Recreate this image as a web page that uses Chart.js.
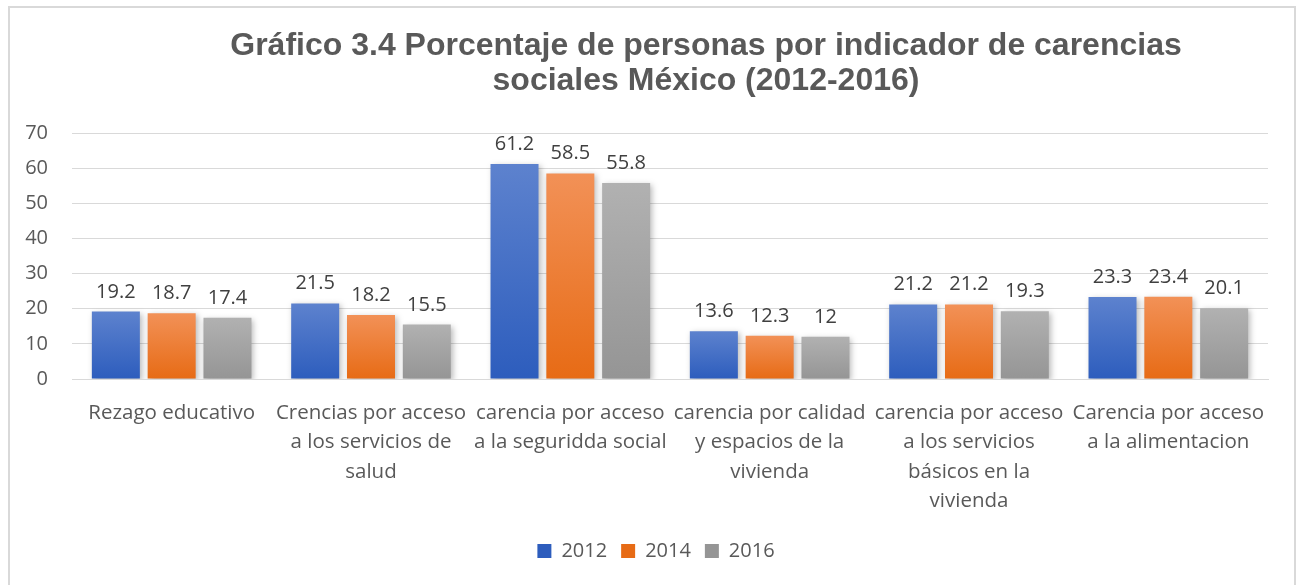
<!DOCTYPE html>
<html>
<head>
<meta charset="utf-8">
<script src="https://cdn.jsdelivr.net/npm/chart.js@4/dist/chart.umd.min.js"></script>
<style>
html,body{margin:0;padding:0;background:#fff;}
#wrap{width:1298px;height:585px;position:relative;}
</style>
</head>
<body>
<div id="wrap"><canvas id="c" width="1298" height="585"></canvas></div>
<script>
const categories = [
  "Rezago educativo",
  ["Crencias por acceso", "a los servicios de", "salud"],
  ["carencia por acceso", "a la seguridda social"],
  ["carencia por calidad", "y espacios de la", "vivienda"],
  ["carencia por acceso", "a los servicios", "básicos en la", "vivienda"],
  ["Carencia por acceso", "a la alimentacion"]
];
const seriesNames = ["2012", "2014", "2016"];
const values2012 = [19.2, 21.5, 61.2, 13.6, 21.2, 23.3];
const values2014 = [18.7, 18.2, 58.5, 12.3, 21.2, 23.4];
const values2016 = [17.4, 15.5, 55.8, 12, 19.3, 20.1];
const titleLines = ["Gráfico 3.4 Porcentaje de personas por indicador de carencias", "sociales México (2012-2016)"];

const FONT = "'Open Sans', sans-serif";
const palettes = [
  {top:'#5D82CE', bottom:'#2D5DBD', solid:'#3F69C6'},
  {top:'#F29157', bottom:'#E76B15', solid:'#EE7A2E'},
  {top:'#B1B1B1', bottom:'#959595', solid:'#A3A3A3'}
];

function barFill(idx){
  return function(ctx){
    const p = palettes[idx];
    const chart = ctx.chart;
    if (ctx.dataIndex === undefined || !chart.chartArea || !chart.scales.y) return p.solid;
    const y = chart.scales.y;
    const top = y.getPixelForValue(ctx.raw);
    const bottom = y.getPixelForValue(0);
    if (!isFinite(top) || !isFinite(bottom) || top === bottom) return p.solid;
    const g = chart.ctx.createLinearGradient(0, top, 0, bottom);
    g.addColorStop(0, p.top);
    g.addColorStop(1, p.bottom);
    return g;
  };
}

const frame = {
  id:'frame',
  afterLayout(chart){
    if (chart.legend) { chart.legend.left -= 14; chart.legend.right -= 14; }
  },
  beforeDraw(chart){
    const c = chart.ctx;
    c.save();
    c.fillStyle='#fff';
    c.fillRect(0,0,chart.width,chart.height);
    c.strokeStyle='#D9D9D9';
    c.lineWidth=2;
    c.strokeRect(9,7,1286,590);
    c.fillStyle='#595959';
    c.font="bold 32px 'Liberation Sans', Arial, sans-serif";
    c.textAlign='center';
    c.textBaseline='middle';
    c.fillText(titleLines[0], 706, 46);
    c.fillText(titleLines[1], 706, 81);
    c.restore();
  }
};

const shadow = {
  id:'shadow',
  beforeDatasetsDraw(chart){
    const c = chart.ctx;
    c.save();
    c.shadowColor='rgba(0,0,0,0.28)';
    c.shadowBlur=6;
    c.shadowOffsetX=2;
    c.shadowOffsetY=2;
  },
  afterDatasetsDraw(chart){
    chart.ctx.restore();
  }
};

const dataLabels = {
  id:'dataLabels',
  afterDatasetsDraw(chart){
    const c = chart.ctx;
    c.save();
    c.fillStyle='#404040';
    c.font="20px " + FONT;
    c.textAlign='center';
    c.textBaseline='alphabetic';
    chart.data.datasets.forEach((ds,di)=>{
      const meta = chart.getDatasetMeta(di);
      meta.data.forEach((bar,i)=>{
        c.fillText(String(ds.data[i]), bar.x, bar.y - 14);
      });
    });
    c.restore();
  }
};

new Chart(document.getElementById('c'), {
  type:'bar',
  data:{
    labels: categories,
    datasets:[
      {label:seriesNames[0], data:values2012, backgroundColor:barFill(0)},
      {label:seriesNames[1], data:values2014, backgroundColor:barFill(1)},
      {label:seriesNames[2], data:values2016, backgroundColor:barFill(2)}
    ]
  },
  options:{
    responsive:false,
    animation:false,
    devicePixelRatio:1,
    layout:{padding:{left:0,right:30,top:133,bottom:14}},
    datasets:{bar:{categoryPercentage:0.84, barPercentage:0.86}},
    scales:{
      x:{
        grid:{display:false, drawTicks:false},
        border:{display:true, color:'#D9D9D9', width:1},
        ticks:{color:'#595959', font:{family:FONT, size:20.5, lineHeight:1.44}, padding:19, maxRotation:0, autoSkip:false},
        afterFit(s){ s.height = 148; }
      },
      y:{
        min:0, max:70,
        grid:{color:'#D9D9D9', lineWidth:1, drawTicks:false},
        border:{display:false},
        ticks:{stepSize:10, color:'#595959', font:{family:FONT, size:20}, padding:24},
        afterFit(s){ s.width = 72; }
      }
    },
    plugins:{
      title:{display:false},
      tooltip:{enabled:false},
      legend:{
        position:'bottom',
        fullSize:false,
        labels:{color:'#595959', font:{family:FONT, size:20}, boxWidth:14, boxHeight:14, padding:14}
      }
    }
  },
  plugins:[frame, shadow, dataLabels]
});
</script>
</body>
</html>
